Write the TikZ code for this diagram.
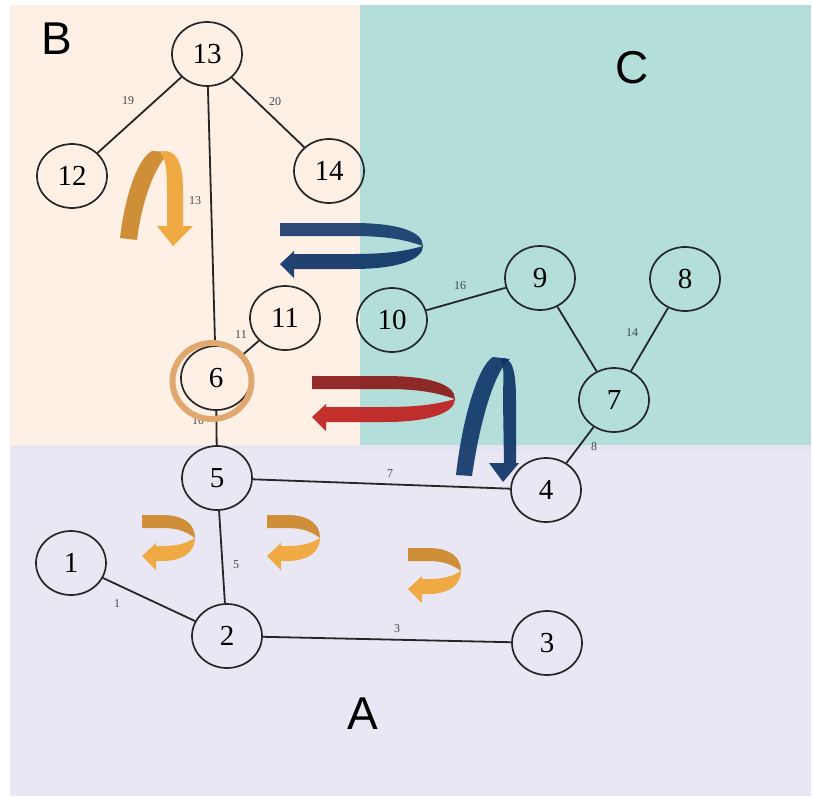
\documentclass[tikz,border=0pt]{standalone}
\usepackage{fontspec}
\setmainfont{Liberation Serif}
\newfontfamily\zonefont{Liberation Sans}
\usetikzlibrary{shapes.geometric}

\definecolor{cpeach}{RGB}{254,240,229}
\definecolor{cteal}{RGB}{180,222,217}
\definecolor{clav}{RGB}{231,229,242}
\definecolor{cink}{RGB}{38,38,38}
\definecolor{corange}{RGB}{240,170,68}
\definecolor{corangedk}{RGB}{206,143,56}
\definecolor{cnavy}{RGB}{14,52,104}
\definecolor{cred}{RGB}{192,32,30}
\definecolor{creddk}{RGB}{140,26,26}
\definecolor{cring}{RGB}{224,168,110}

\tikzset{
  vertex/.style={ellipse,draw=cink,line width=1.7,minimum width=70,minimum height=64,
    inner sep=0,font=\fontsize{29}{29}\selectfont},
  wlabel/.style={text=cink!85,font=\fontsize{12}{12}\selectfont,inner sep=1},
  zonelabel/.style={font=\zonefont\fontsize{46}{46}\selectfont,inner sep=0},
  link/.style={cink,line width=1.8}
}

% U-turn ribbon from (0,0): #1 length, #2 turn length, #3 back face, #4 front face
\newcommand{\uturn}[4]{%
  \fill[#3] (0,0) -- ({#1-#2},0) .. controls ({#1-#2/3},0) and (#1,9) .. (#1,23)
    .. controls ({#1-#2/4},17) and ({#1-#2/2},13) .. ({#1-#2},13) -- (0,13) -- cycle;
  \fill[#4] (#1,23) .. controls (#1,36) and ({#1-#2/3},46) .. ({#1-#2},46) -- (14,46)
    -- (14,55) -- (0,41) -- (14,28) -- (14,31) -- ({#1-#2},31)
    .. controls ({#1-#2/2},31) and ({#1-#2/4},28) .. (#1,23) -- cycle;
}

\begin{document}
\begin{tikzpicture}[x=1pt,y=-1pt]
  \fill[white] (0,0) rectangle (813,798);
  \useasboundingbox (0,0) rectangle (813,798);
  % zones
  \fill[cpeach] (10,5) rectangle (360,445);
  \fill[cteal] (360,5) rectangle (811,452);
  \fill[clav,opacity=.92] (10,445) rectangle (811,796);
  \node[zonelabel] (zoneB) at (57,39) {B};
  \node[zonelabel] (zoneC) at (632,68) {C};
  \node[zonelabel] (zoneA) at (363,714) {A};

  % tree
  \node[vertex] (n13) at (207,54) {13};
  \node[vertex] (n12) at (72,176) {12};
  \node[vertex] (n14) at (329,171) {14};
  \node[vertex] (n11) at (285,318) {11};
  \node[vertex] (n10) at (392,320) {10};
  \node[vertex] (n9) at (540,278) {9};
  \node[vertex] (n8) at (685,279) {8};
  \node[vertex] (n7) at (614,400) {7};
  \node[vertex] (n6) at (216,378) {6};
  \node[vertex] (n5) at (217,478) {5};
  \node[vertex] (n4) at (546,490) {4};
  \node[vertex] (n1) at (71,563) {1};
  \node[vertex] (n2) at (227,636) {2};
  \node[vertex] (n3) at (547,643) {3};

  \draw[link] (n13) -- (n12);
  \draw[link] (n13) -- (n14);
  \draw[link] (n13) -- (n6);
  \draw[link] (n6) -- (n11);
  \draw[link] (n6) -- (n5);
  \draw[link] (n5) -- (n4);
  \draw[link] (n5) -- (n2);
  \draw[link] (n1) -- (n2);
  \draw[link] (n2) -- (n3);
  \draw[link] (n4) -- (n7);
  \draw[link] (n7) -- (n9);
  \draw[link] (n7) -- (n8);
  \draw[link] (n9) -- (n10);

  % edge weights
  \node[wlabel] (w19) at (128,101) {19};
  \node[wlabel] (w20) at (275,102) {20};
  \node[wlabel] (w13) at (195,201) {13};
  \node[wlabel] (w11) at (241,335) {11};
  \node[wlabel] (w10) at (198,421) {10};
  \node[wlabel] (w7) at (390,474) {7};
  \node[wlabel] (w5) at (236,565) {5};
  \node[wlabel] (w1) at (117,604) {1};
  \node[wlabel] (w3) at (397,629) {3};
  \node[wlabel] (w8) at (594,447) {8};
  \node[wlabel] (w14) at (632,333) {14};
  \node[wlabel] (w16) at (460,286) {16};

  \node[ellipse,draw=cring,line width=6,minimum width=79,minimum height=76,inner sep=0]
    (ring6) at (212,381) {};

  % horizontal turns
  \begin{scope}[shift={(280,223)}]
    \uturn{143}{70}{cnavy,opacity=.88}{cnavy,opacity=.92}
  \end{scope}
  \begin{scope}[shift={(312,376)}]
    \uturn{143}{70}{creddk,opacity=.92}{cred,opacity=.92}
  \end{scope}
  \foreach \x/\y in {142/515,267/515,408/548} {
    \begin{scope}[shift={(\x,\y)}]
      \uturn{53}{33}{corangedk}{corange}
    \end{scope}
  }

  % vertical turns
  \fill[corangedk] (120,238) .. controls (125,195) and (138,158) .. (152,151) -- (170,152)
    .. controls (155,165) and (142,200) .. (137,240) -- cycle;
  \fill[corange] (165,151) .. controls (178,152) and (183,165) .. (183,190) -- (183,226)
    -- (193,226) -- (173,246) -- (157,226) -- (167,226) -- (167,190)
    .. controls (167,170) and (166,160) .. (160,152) -- cycle;
  \fill[cnavy,opacity=.9] (456,475) .. controls (462,420) and (478,365) .. (493,357) -- (510,359)
    .. controls (495,370) and (480,420) .. (472,476) -- cycle;
  \fill[cnavy,opacity=.92] (500,358) .. controls (512,356) and (516,370) .. (516,400) -- (516,463)
    -- (519,463) -- (503,482) -- (489,463) -- (504,463) -- (503,400)
    .. controls (503,380) and (505,365) .. (500,358) -- cycle;
\end{tikzpicture}
\end{document}
